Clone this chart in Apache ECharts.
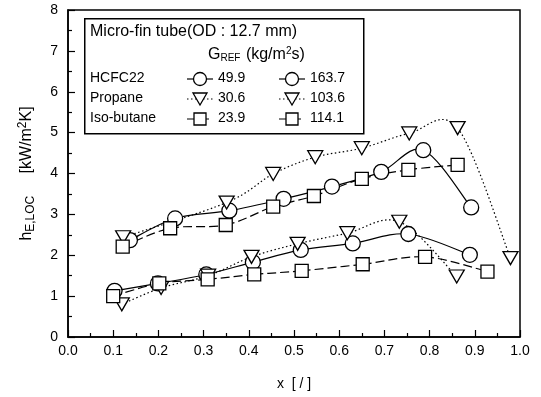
<!DOCTYPE html>
<html>
<head>
<meta charset="utf-8">
<script src="https://cdn.jsdelivr.net/npm/echarts@6/dist/echarts.min.js"></script>
<style>
  html, body { margin: 0; padding: 0; background: #fff; }
  #main { width: 541px; height: 397px; }
</style>
</head>
<body>
<div id="main"></div>
<script>
// data (x = vapour quality, y = h in kW/m2K)
var xR22Hi = [0.137, 0.237, 0.357, 0.477, 0.584, 0.693, 0.786, 0.892];
var yR22Hi = [2.37, 2.90, 3.09, 3.38, 3.68, 4.04, 4.57, 3.17];
var xR22Lo = [0.103, 0.199, 0.306, 0.409, 0.515, 0.630, 0.753, 0.889];
var yR22Lo = [1.13, 1.31, 1.53, 1.83, 2.13, 2.29, 2.52, 2.01];

var xPropHi = [0.122, 0.351, 0.454, 0.547, 0.650, 0.755, 0.862, 0.979];
var yPropHi = [2.44, 3.29, 3.99, 4.40, 4.62, 4.98, 5.11, 1.93];
var xPropLo = [0.119, 0.206, 0.310, 0.406, 0.508, 0.618, 0.733, 0.860];
var yPropLo = [0.80, 1.20, 1.50, 1.96, 2.28, 2.54, 2.82, 1.48];

var xIsoHi = [0.121, 0.226, 0.349, 0.454, 0.544, 0.650, 0.753, 0.862];
var yIsoHi = [2.21, 2.66, 2.74, 3.19, 3.45, 3.87, 4.09, 4.21];
var xIsoLo = [0.100, 0.202, 0.309, 0.412, 0.517, 0.652, 0.790, 0.928];
var yIsoLo = [1.00, 1.31, 1.41, 1.53, 1.62, 1.78, 1.96, 1.60];

var fluids = ['HCFC22', 'Propane', 'Iso-butane'];
var massFluxLo = ['49.9', '30.6', '23.9'];
var massFluxHi = ['163.7', '103.6', '114.1'];

var FONT = '"Liberation Sans", Arial, sans-serif';
var DOT = [1.5, 2.5];
var DASH = [9, 4];

function pairs(xs, ys) {
  return xs.map(function (x, i) { return [x, ys[i]]; });
}

// spline through the points (catmull-rom), one bezier per segment
function curveSeries(name, xs, ys, dash) {
  var n = xs.length;
  return {
    name: name + ' line',
    type: 'custom',
    data: pairs(xs, ys),
    z: 2,
    silent: true,
    renderItem: function (params, api) {
      var i = params.dataIndex;
      if (i >= n - 1) return null;
      var p = function (k) {
        k = Math.max(0, Math.min(n - 1, k));
        return api.coord([xs[k], ys[k]]);
      };
      var p0 = p(i - 1), p1 = p(i), p2 = p(i + 1), p3 = p(i + 2);
      return {
        type: 'bezierCurve',
        shape: {
          x1: p1[0], y1: p1[1], x2: p2[0], y2: p2[1],
          cpx1: p1[0] + (p2[0] - p0[0]) / 6, cpy1: p1[1] + (p2[1] - p0[1]) / 6,
          cpx2: p2[0] - (p3[0] - p1[0]) / 6, cpy2: p2[1] - (p3[1] - p1[1]) / 6
        },
        style: { stroke: '#000', fill: null, lineWidth: 1.2, lineDash: dash }
      };
    }
  };
}

var circleMark = { symbol: 'circle', symbolSize: 15, symbolRotate: 0 };
var triMark = { symbol: 'triangle', symbolSize: [15, 13], symbolRotate: 180 };
var rectMark = { symbol: 'rect', symbolSize: 13, symbolRotate: 0 };

function markSeries(name, xs, ys, mark) {
  return {
    name: name,
    type: 'scatter',
    data: pairs(xs, ys),
    symbol: mark.symbol,
    symbolSize: mark.symbolSize,
    symbolRotate: mark.symbolRotate,
    itemStyle: { color: '#fff', borderColor: '#000', borderWidth: 1.3, opacity: 1 },
    emphasis: { disabled: true },
    z: 4
  };
}

// legend box built as graphics
var legendGraphics = [
  { type: 'rect', left: 84, top: 18, shape: { width: 279, height: 115 },
    style: { fill: '#fff', stroke: '#000', lineWidth: 1.5 }, z: 10 },
  { type: 'text', left: 90, top: 24, z: 11,
    style: { text: 'Micro-fin tube(OD : 12.7 mm)', font: '16px ' + FONT, fill: '#000' } },
  { type: 'text', left: 208, top: 46, z: 11,
    style: { text: 'G{s|REF} (kg/m{p|2}s)', font: '16px ' + FONT, fill: '#000',
      rich: { s: { fontSize: 10, fontFamily: FONT, padding: [8, 1, 0, 0] },
              p: { fontSize: 10, fontFamily: FONT, padding: [0, 0, 7, 0] } } } }
];
var rowY = [79, 99, 119];
var dashes = [null, DOT, DASH];
fluids.forEach(function (f, i) {
  var y = rowY[i];
  legendGraphics.push({ type: 'text', left: 90, top: y - 8, z: 11,
    style: { text: f, font: '14px ' + FONT, fill: '#000' } });
  [200, 292].forEach(function (cx, j) {
    legendGraphics.push({ type: 'line', z: 11,
      shape: { x1: cx - 13, y1: y, x2: cx + 13, y2: y },
      style: { stroke: '#000', lineWidth: 1.2, lineDash: dashes[i] } });
    var m;
    if (i === 0) {
      m = { type: 'circle', shape: { cx: cx, cy: y, r: 6.5 } };
    } else if (i === 1) {
      m = { type: 'polygon', shape: { points: [[cx - 7, y - 6], [cx + 7, y - 6], [cx, y + 6]] } };
    } else {
      m = { type: 'rect', shape: { x: cx - 6, y: y - 6, width: 12, height: 12 } };
    }
    m.z = 12;
    m.style = { fill: '#fff', stroke: '#000', lineWidth: 1.3 };
    legendGraphics.push(m);
    legendGraphics.push({ type: 'text', left: cx + 18, top: y - 8, z: 11,
      style: { text: (j === 0 ? massFluxLo : massFluxHi)[i], font: '14px ' + FONT, fill: '#000' } });
  });
});

var option = {
  backgroundColor: '#fff',
  animation: false,
  textStyle: { fontFamily: FONT, color: '#000' },
  grid: { left: 68, right: 21, top: 10, bottom: 60, show: true,
    borderColor: '#000', borderWidth: 1.5, backgroundColor: 'transparent' },
  xAxis: {
    type: 'value', min: 0, max: 1, interval: 0.1,
    name: 'x  [ / ]', nameLocation: 'middle', nameGap: 40,
    nameTextStyle: { fontSize: 14, fontFamily: FONT, color: '#000' },
    axisLine: { lineStyle: { color: '#000', width: 1.5 } },
    axisTick: { inside: true, length: 7, lineStyle: { color: '#000', width: 1.2 } },
    minorTick: { show: true, splitNumber: 2, length: 4, lineStyle: { color: '#000', width: 1.2 } },
    splitLine: { show: false },
    axisLabel: { fontSize: 14, color: '#000', fontFamily: FONT, margin: 7,
      formatter: function (v) { return v.toFixed(1); } }
  },
  yAxis: {
    type: 'value', min: 0, max: 8, interval: 1,
    name: 'h{sub|E,LOC}     [kW/m{sup|2}K]', nameLocation: 'middle', nameGap: 31,
    nameTextStyle: { fontSize: 16, fontFamily: FONT, color: '#000',
      rich: { sub: { fontSize: 12, fontFamily: FONT, padding: [9, 0, 0, 0] },
              sup: { fontSize: 12, fontFamily: FONT, padding: [0, 0, 8, 0] } } },
    axisLine: { lineStyle: { color: '#000', width: 1.5 } },
    axisTick: { inside: true, length: 7, lineStyle: { color: '#000', width: 1.2 } },
    minorTick: { show: true, splitNumber: 2, length: 4, lineStyle: { color: '#000', width: 1.2 } },
    splitLine: { show: false },
    axisLabel: { fontSize: 14, color: '#000', fontFamily: FONT, margin: 10 }
  },
  graphic: legendGraphics,
  series: [
    curveSeries('HCFC22 163.7', xR22Hi, yR22Hi, null),
    curveSeries('HCFC22 49.9', xR22Lo, yR22Lo, null),
    curveSeries('Propane 103.6', xPropHi, yPropHi, DOT),
    curveSeries('Propane 30.6', xPropLo, yPropLo, DOT),
    curveSeries('Iso-butane 114.1', xIsoHi, yIsoHi, DASH),
    curveSeries('Iso-butane 23.9', xIsoLo, yIsoLo, DASH),
    markSeries('HCFC22 163.7', xR22Hi, yR22Hi, circleMark),
    markSeries('HCFC22 49.9', xR22Lo, yR22Lo, circleMark),
    markSeries('Propane 103.6', xPropHi, yPropHi, triMark),
    markSeries('Propane 30.6', xPropLo, yPropLo, triMark),
    markSeries('Iso-butane 114.1', xIsoHi, yIsoHi, rectMark),
    markSeries('Iso-butane 23.9', xIsoLo, yIsoLo, rectMark)
  ]
};

var chart = echarts.init(document.getElementById('main'));
chart.setOption(option);
</script>
</body>
</html>
